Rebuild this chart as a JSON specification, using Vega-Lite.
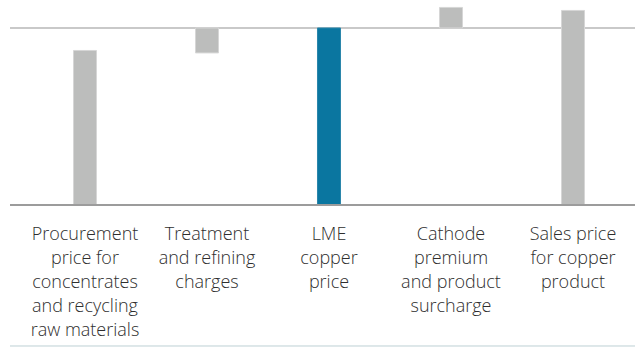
{
  "$schema": "https://vega.github.io/schema/vega-lite/v6.json",
  "width": 625,
  "height": 347,
  "padding": {"left": 10, "top": 0, "right": 0, "bottom": 0},
  "autosize": {"type": "none"},
  "background": "white",
  "config": {"view": {"stroke": null}},
  "data": {
    "values": [
      {"item": "Procurement", "label": "Procurement\nprice for\nconcentrates\nand recycling\nraw materials", "start": 0, "end": 87.3, "kind": "other"},
      {"item": "Treatment", "label": "Treatment\nand refining\ncharges", "start": 85.9, "end": 100, "kind": "other"},
      {"item": "LME", "label": "LME\ncopper\nprice", "start": 0, "end": 100, "kind": "lme"},
      {"item": "Cathode", "label": "Cathode\npremium\nand product\nsurcharge", "start": 100, "end": 111.6, "kind": "other"},
      {"item": "Sales", "label": "Sales price\nfor copper\nproduct", "start": 0, "end": 109.9, "kind": "other"}
    ]
  },
  "encoding": {
    "x": {
      "field": "item",
      "type": "nominal",
      "sort": null,
      "axis": null,
      "scale": {"paddingInner": 0, "paddingOuter": 0.0615, "align": 0.933}
    }
  },
  "layer": [
    {
      "mark": {"type": "rule", "color": "#c9c9c9", "strokeWidth": 2},
      "encoding": {
        "x": null,
        "y": {"datum": 100, "type": "quantitative", "axis": null, "scale": {"domain": [-80.2, 115.8], "nice": false, "zero": false}}
      }
    },
    {
      "mark": {"type": "bar", "width": 23, "stroke": "#d8d8d8", "strokeWidth": 1},
      "encoding": {
        "y": {"field": "end", "type": "quantitative", "axis": null, "scale": {"domain": [-80.2, 115.8], "nice": false, "zero": false}},
        "y2": {"field": "start"},
        "color": {"field": "kind", "type": "nominal", "legend": null, "scale": {"domain": ["other", "lme"], "range": ["#bcbdbc", "#0a76a0"]}},
        "stroke": {"field": "kind", "type": "nominal", "legend": null, "scale": {"domain": ["other", "lme"], "range": ["#d6d6d6", "#2a86aa"]}}
      }
    },
    {
      "mark": {"type": "rule", "color": "#9c9c9c", "strokeWidth": 2},
      "encoding": {
        "x": null,
        "y": {"datum": 0, "type": "quantitative"}
      }
    },
    {
      "mark": {"type": "rule", "color": "#dde7e9", "strokeWidth": 1.5},
      "encoding": {
        "x": null,
        "y": {"datum": -79.5, "type": "quantitative"}
      }
    },
    {
      "mark": {"type": "text", "baseline": "alphabetic", "align": "center", "lineBreak": "\n", "lineHeight": 24, "fontSize": 18, "fontWeight": 300, "font": "Open Sans", "color": "#2e2e2e", "dy": 35},
      "encoding": {
        "y": {"datum": 0, "type": "quantitative"},
        "text": {"field": "label"}
      }
    }
  ]
}
